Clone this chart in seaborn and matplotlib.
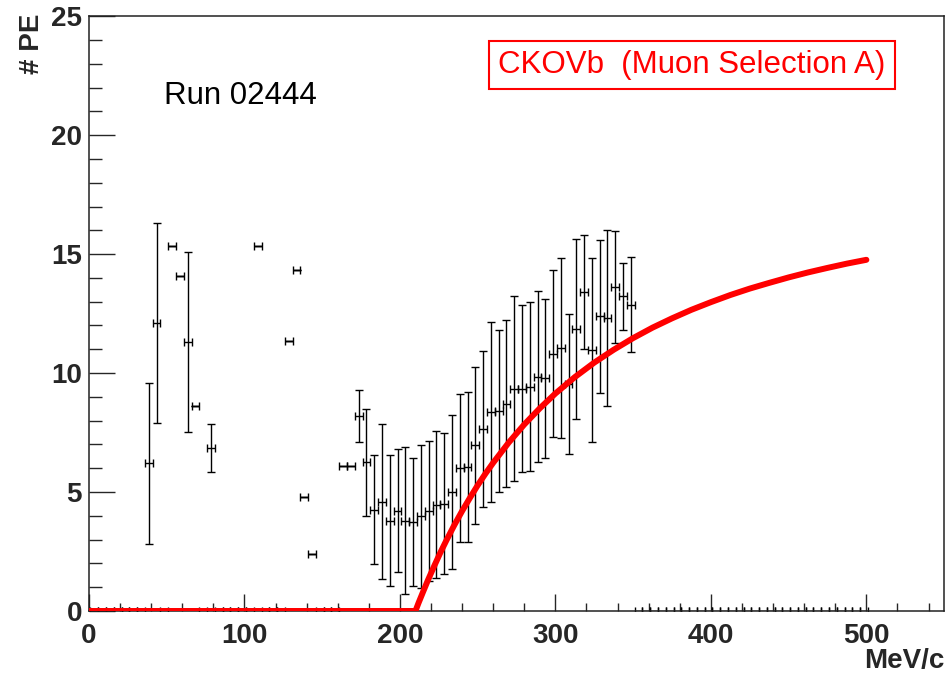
import matplotlib
matplotlib.use("Agg")
import matplotlib.pyplot as plt
import seaborn as sns
from matplotlib.ticker import MultipleLocator

""" CKOVb photo-electron yield vs momentum, ROOT style """

# measured points (bin centre, #PE, error on #PE)
mom = [38.5, 43.5, 53.5, 58.5, 63.5, 68.5, 78.5, 108.5, 128.5, 133.5, 138.5, 143.5,
       163.5, 168.5, 173.5, 178.5, 183.5, 188.5, 193.5, 198.5, 203.5, 208.5,
       213.5, 218.5, 223.5, 228.5, 233.5, 238.5, 243.5, 248.5, 253.5, 258.5,
       263.5, 268.5, 273.5, 278.5, 283.5, 288.5, 293.5, 298.5, 303.5, 308.5,
       313.5, 318.5, 323.5, 328.5, 333.5, 338.5, 343.5, 348.5]
npe = [6.2, 12.1, 15.35, 14.1, 11.3, 8.6, 6.85, 15.35, 11.35, 14.35, 4.8, 2.4,
       6.1, 6.1, 8.2, 6.25, 4.26, 4.6, 3.8, 4.22, 3.8, 3.75,
       3.98, 4.22, 4.47, 4.51, 5.0, 6.0, 6.04, 6.97, 7.66, 8.36,
       8.4, 8.71, 9.35, 9.35, 9.42, 9.85, 9.78, 10.82, 11.05, 9.53,
       11.85, 13.42, 10.97, 12.38, 12.3, 13.63, 13.23, 12.87]
npe_err = [3.37, 4.2, 0, 0, 3.77, 0, 1.0, 0, 0, 0, 0, 0,
           0, 0, 1.1, 2.25, 2.3, 3.25, 2.77, 2.58, 3.1, 2.7,
           3.0, 2.94, 3.1, 2.97, 3.25, 3.1, 3.15, 3.3, 3.28, 3.77,
           3.4, 3.5, 3.9, 3.5, 3.55, 3.6, 3.35, 3.5, 3.8, 2.95,
           3.8, 2.4, 3.85, 3.2, 3.7, 2.35, 1.4, 2.0]

# empty bins sitting on the axis
mom_zero = [3.5, 8.5, 13.5, 18.5, 23.5, 28.5, 33.5, 48.5, 73.5, 83.5, 88.5,
            93.5, 98.5, 103.5, 113.5, 118.5, 123.5, 148.5, 153.5, 158.5,
            353.5, 358.5, 363.5, 368.5, 373.5, 378.5, 383.5, 388.5, 393.5,
            398.5, 403.5, 408.5, 413.5, 418.5, 423.5, 428.5, 433.5, 438.5,
            443.5, 448.5, 453.5, 458.5, 463.5, 468.5, 473.5, 478.5, 483.5,
            488.5, 493.5, 498.5]

# threshold curve
fit_mom = [0, 210, 212, 215, 218, 222, 226, 230, 235, 240, 245, 250, 255, 260,
           270, 280, 290, 300, 312.5, 325, 337.5, 350, 362.5, 375, 387.5, 400,
           412.5, 425, 437.5, 450, 462.5, 475, 487.5, 500]
fit_npe = [0, 0, 0.34, 0.82, 1.29, 1.88, 2.45, 2.98, 3.61, 4.2, 4.75, 5.28,
           5.77, 6.23, 7.08, 7.84, 8.52, 9.14, 9.83, 10.44, 10.98, 11.47, 11.91,
           12.3, 12.66, 12.98, 13.28, 13.55, 13.79, 14.02, 14.23, 14.42, 14.6,
           14.76]

sns.set_style("ticks")
plt.rcParams['font.family'] = ['Liberation Sans', 'DejaVu Sans']

fig = plt.figure(figsize=(9.46, 6.74), dpi=100)
ax = fig.add_axes([0.094, 0.0935, 0.904, 0.8825])

# data with error bars (no markers, ROOT-like)
ax.errorbar(mom, npe, yerr=npe_err, xerr=2.5, fmt='none', ecolor='black',
            elinewidth=1.0, capsize=3, capthick=1.0, zorder=2)
ax.errorbar(mom_zero, [0] * len(mom_zero), xerr=2.5, fmt='none', ecolor='black',
            elinewidth=1.0, capsize=3, capthick=1.0, zorder=2)

# threshold fit
sns.lineplot(x=fit_mom, y=fit_npe, color='red', linewidth=4.3, ax=ax, zorder=3)

ax.set_xlim(0, 550)
ax.set_ylim(0, 25)
ax.xaxis.set_major_locator(MultipleLocator(100))
ax.xaxis.set_minor_locator(MultipleLocator(20))
ax.yaxis.set_major_locator(MultipleLocator(5))
ax.yaxis.set_minor_locator(MultipleLocator(1))

ax.tick_params(axis='x', which='major', direction='in', length=12, width=1,
               pad=9, labelsize=20, top=False)
ax.tick_params(axis='x', which='minor', direction='in', length=6, width=1, top=False)
ax.tick_params(axis='y', which='major', direction='in', length=19, width=1,
               pad=5, labelsize=20, right=False)
ax.tick_params(axis='y', which='minor', direction='in', length=9, width=1, right=False)
for lbl in ax.get_xticklabels() + ax.get_yticklabels():
    lbl.set_fontweight('bold')

for sp in ax.spines.values():
    sp.set_visible(True)
    sp.set_linewidth(1.1)
    sp.set_color('#222222')

# axis titles
fig.text(32 / 946, 1 - 14 / 674, '# PE', rotation=90, ha='center', va='top',
         fontsize=20, fontweight='bold')
fig.text(944 / 946, 1 - 661 / 674, 'MeV/c', ha='right', va='center',
         fontsize=20, fontweight='bold')

# annotations
ax.text(48.5, 21.3, 'Run 02444', fontsize=22.5, color='black')
ax.text(0.705, 0.918, 'CKOVb  (Muon Selection A)', transform=ax.transAxes,
        ha='center', va='center', fontsize=22.5, color='red',
        bbox=dict(boxstyle='square,pad=0.3', fc='white', ec='red', lw=1.5))

fig.savefig('out.png', dpi=100)
